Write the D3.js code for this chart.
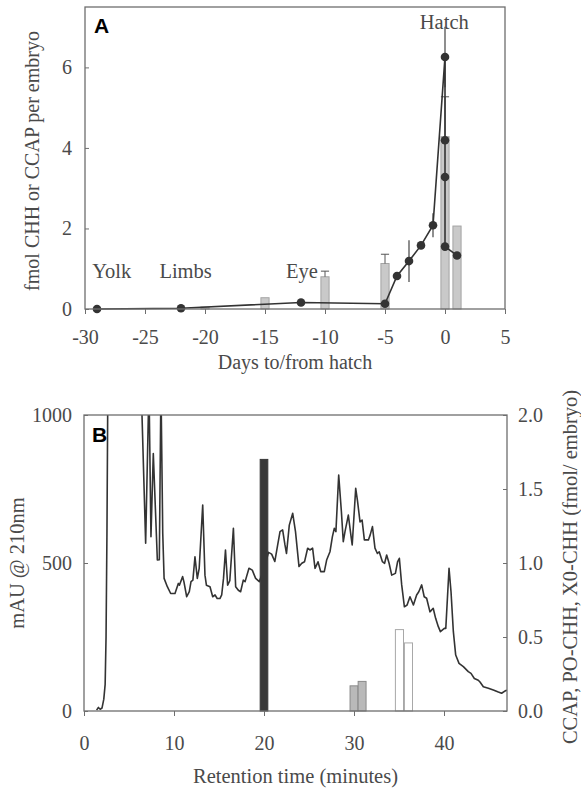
<!DOCTYPE html>
<html>
<head>
<meta charset="utf-8">
<script src="https://cdn.jsdelivr.net/npm/d3@7"></script>
<style>
  html, body { margin: 0; padding: 0; background: #fff; }
  svg text { font-family: "Liberation Serif", "Times New Roman", serif; fill: #4a4a4a; }
</style>
</head>
<body>
<svg id="chart" width="581" height="788"></svg>
<script>
// ---------- Panel A data ----------
const dotDays = [-29, -22, -12, -5, -4, -3, -2, -1, 0, 0, 0, 0, 1];
const dotVals = [0, 0.02, 0.16, 0.13, 0.82, 1.19, 1.58, 2.08, 6.26, 4.19, 3.28, 1.55, 1.33];
const dotErr  = [0, 0, 0, 0, 0, 0.52, 0, 0.3, 0.75, 0, 0, 0, 0];
const barDays = [-20, -15, -10, -5, 0, 1];
const barVals = [0.05, 0.28, 0.80, 1.13, 4.28, 2.06];
const barErr  = [0, 0, 0.14, 0.23, 0.99, 0];
const stageLabels = ["Yolk", "Limbs", "Eye", "Hatch"];
const stageDays   = [-29.4, -23.8, -13.25, -2.1];
const stageVals   = [0.77, 0.77, 0.77, 6.95];
const aXTicks = [-30, -25, -20, -15, -10, -5, 0, 5];
const aYTicks = [0, 2, 4, 6];

// ---------- Panel B data ----------
const chromTime = [1.4, 1.6, 1.8, 2.0, 2.2, 2.35, 2.45, 2.55, 2.65, 3.0, 6.2, 6.35, 6.85, 7.22, 7.44, 7.70, 8.15, 8.37, 8.55, 8.75, 8.9,
  9.26, 9.63, 10.11, 10.48, 10.6, 10.96, 11.1, 11.41, 11.7, 11.89, 12.1, 12.33, 12.59, 12.8, 13.19, 13.44, 13.6, 14.0, 14.3, 14.56, 14.8,
  15.1, 15.3, 15.5, 15.72, 15.96, 16.2, 16.6, 16.85, 17.15, 17.4, 17.7, 17.9, 18.33, 18.7, 19.07, 19.48, 20.0, 20.5, 20.85, 21.2, 21.52,
  21.78, 22.07, 22.33, 22.5, 22.81, 23.19, 23.5, 23.89, 24.2, 24.5, 24.85, 25.1, 25.4, 25.67, 26.0, 26.3, 26.7, 26.96, 27.33, 27.6,
  27.81, 27.99, 28.3, 28.6, 28.81, 29.0, 29.37, 29.7, 29.8, 30.19, 30.4, 30.67, 30.9, 31.15, 31.6, 31.8, 32.05, 32.33, 32.6, 32.8, 33.15,
  33.4, 33.63, 33.9, 34.19, 34.6, 34.85, 35.04, 35.3, 35.6, 35.9, 36.22, 36.6, 36.96, 37.2, 37.52, 37.8, 38.07, 38.44, 38.8, 39.07,
  39.37, 39.6, 40.04, 40.2, 40.56, 40.78, 41.04, 41.3, 41.67, 42.15, 42.7, 43.0, 43.37, 43.81, 44.0, 44.37, 44.93, 45.48, 45.96, 46.4,
  46.8, 47.0];
const chromMAU = [3, 12, 6, 10, 40, 90, 250, 600, 1100, 1500, 1500, 1100, 567, 1100, 589, 870, 510, 511, 1100, 600, 448,
  420, 397, 397, 431, 425, 454, 437, 386, 403, 437, 442, 521, 448, 482, 696, 459, 425, 420, 386, 392, 380,
  380, 392, 448, 544, 425, 440, 617, 420, 408, 403, 442, 437, 482, 476, 448, 437, 480, 536, 530, 505, 561,
  606, 612, 561, 532, 628, 668, 606, 488, 499, 504, 550, 544, 550, 482, 504, 471, 471, 510, 538, 589,
  617, 606, 797, 673, 572, 606, 662, 583, 561, 752, 707, 639, 645, 578, 578, 595, 623, 550, 532, 538, 505,
  499, 527, 499, 459, 465, 505, 516, 426, 352, 358, 386, 358, 392, 403, 426, 386, 381, 335, 347, 313,
  285, 268, 279, 279, 482, 403, 268, 189, 161, 150, 133, 127, 110, 104, 98, 82, 77, 71, 65, 60,
  68, 70];
const ccapTime = [20];
const ccapVal  = [1.70];
const poTime   = [30.0, 30.9];
const poVal    = [0.17, 0.20];
const xoTime   = [35.05, 36.05];
const xoVal    = [0.55, 0.46];
const bXTicks = [0, 10, 20, 30, 40];
const bYTicks = [0, 500, 1000];
const bY2Ticks = [0, 0.5, 1.0, 1.5, 2.0];

const svg = d3.select("#chart");
const axisCol = "#6e6e6e";
const lineCol = "#333";
const fs = 20;

function styleAxis(g) {
  g.select(".domain").remove();
  g.selectAll(".tick line").attr("stroke", axisCol).attr("stroke-width", 1);
  g.selectAll(".tick text").attr("font-size", fs).attr("fill", "#4a4a4a")
    .attr("font-family", "Liberation Serif, Times New Roman, serif");
}
const hyphenInt = (d) => String(d);

// ================= Panel A =================
const ax = d3.scaleLinear().domain([-30, 5]).range([85, 505]);
const ay = d3.scaleLinear().domain([0, 7.5]).range([309, 7]);
const gA = svg.append("g");

const barHalf = 0.34;
gA.selectAll("rect.bar").data(barDays).enter().append("rect")
  .attr("x", (d) => ax(d - barHalf))
  .attr("width", (d) => ax(d + barHalf) - ax(d - barHalf))
  .attr("y", (d, i) => ay(barVals[i]))
  .attr("height", (d, i) => ay(0) - ay(barVals[i]))
  .attr("fill", "#c9c9c9").attr("stroke", "#a4a4a4").attr("stroke-width", 1);
barDays.forEach((d, i) => {
  if (!barErr[i]) return;
  gA.append("line").attr("x1", ax(d)).attr("x2", ax(d))
    .attr("y1", ay(barVals[i])).attr("y2", ay(barVals[i] + barErr[i]))
    .attr("stroke", "#555").attr("stroke-width", 1);
  gA.append("line").attr("x1", ax(d - barHalf)).attr("x2", ax(d + barHalf))
    .attr("y1", ay(barVals[i] + barErr[i])).attr("y2", ay(barVals[i] + barErr[i]))
    .attr("stroke", "#555").attr("stroke-width", 1);
});
dotDays.forEach((d, i) => {
  if (!dotErr[i]) return;
  gA.append("line").attr("x1", ax(d)).attr("x2", ax(d))
    .attr("y1", ay(dotVals[i] - dotErr[i])).attr("y2", ay(dotVals[i] + dotErr[i]))
    .attr("stroke", "#444").attr("stroke-width", 1.2);
});
const aLine = d3.line().x((d) => ax(d[0])).y((d) => ay(d[1]));
gA.append("path").datum(dotDays.map((d, i) => [d, dotVals[i]]))
  .attr("d", aLine).attr("fill", "none").attr("stroke", lineCol).attr("stroke-width", 1.6);
gA.selectAll("circle").data(dotDays).enter().append("circle")
  .attr("cx", (d) => ax(d)).attr("cy", (d, i) => ay(dotVals[i])).attr("r", 4.3)
  .attr("fill", "#333");

gA.append("rect").attr("x", 85).attr("y", 7).attr("width", 420).attr("height", 302)
  .attr("fill", "none").attr("stroke", axisCol).attr("stroke-width", 1.3);
gA.append("g").attr("transform", "translate(0,309)")
  .call(d3.axisBottom(ax).tickValues(aXTicks).tickSize(5).tickPadding(16).tickFormat(hyphenInt))
  .call(styleAxis);
gA.append("g").attr("transform", "translate(85,0)")
  .call(d3.axisLeft(ay).tickValues(aYTicks).tickSizeInner(-4).tickSizeOuter(0).tickPadding(13).tickFormat(hyphenInt))
  .call(styleAxis);
gA.selectAll("text.stage").data(stageLabels).enter().append("text")
  .attr("x", (d, i) => ax(stageDays[i])).attr("y", (d, i) => ay(stageVals[i]))
  .attr("font-size", 20.5).text((d) => d);
gA.append("text").attr("x", 94).attr("y", 33).attr("font-size", 21)
  .attr("font-weight", "bold").style("font-family", "Liberation Sans, Arial, sans-serif").style("fill", "#000").text("A");
gA.append("text").attr("x", ax(-12.5)).attr("y", 369).attr("text-anchor", "middle")
  .attr("font-size", fs).text("Days to/from hatch");
gA.append("text").attr("transform", "translate(39,161) rotate(-90)").attr("text-anchor", "middle")
  .attr("font-size", fs).text("fmol CHH or CCAP per embryo");

// ================= Panel B =================
const bx = d3.scaleLinear().domain([0, 47]).range([84, 507]);
const by = d3.scaleLinear().domain([0, 1000]).range([711, 415]);
const by2 = d3.scaleLinear().domain([0, 2]).range([711, 415]);
const gB = svg.append("g");

svg.append("defs").append("clipPath").attr("id", "clipB")
  .append("rect").attr("x", 84).attr("y", 415).attr("width", 423).attr("height", 296);

const bLine = d3.line().x((d) => bx(d[0])).y((d) => by(d[1]));
gB.append("path").datum(chromTime.map((t, i) => [t, chromMAU[i]]))
  .attr("clip-path", "url(#clipB)")
  .attr("d", bLine).attr("fill", "none").attr("stroke", lineCol).attr("stroke-width", 1.6)
  .attr("stroke-linejoin", "round");

function drawBars(times, vals, w, fill, stroke) {
  gB.selectAll(null).data(times).enter().append("rect")
    .attr("x", (t) => bx(t - w / 2))
    .attr("width", (t) => bx(t + w / 2) - bx(t - w / 2))
    .attr("y", (t, i) => by2(vals[i]))
    .attr("height", (t, i) => by2(0) - by2(vals[i]))
    .attr("fill", fill).attr("stroke", stroke).attr("stroke-width", 1);
}
drawBars(ccapTime, ccapVal, 0.85, "#383838", "#383838");
drawBars(poTime, poVal, 0.88, "#b9b9b9", "#8a8a8a");
drawBars(xoTime, xoVal, 0.9, "#ffffff", "#a8a8a8");

gB.append("rect").attr("x", 84).attr("y", 415).attr("width", 423).attr("height", 296)
  .attr("fill", "none").attr("stroke", axisCol).attr("stroke-width", 1.3);
gB.append("g").attr("transform", "translate(0,711)")
  .call(d3.axisBottom(bx).tickValues(bXTicks).tickSize(5).tickPadding(20).tickFormat(hyphenInt))
  .call(styleAxis);
gB.append("g").attr("transform", "translate(84,0)")
  .call(d3.axisLeft(by).tickValues(bYTicks).tickSizeInner(-4).tickSizeOuter(0).tickPadding(12).tickFormat(hyphenInt))
  .call(styleAxis);
gB.append("g").attr("transform", "translate(507,0)")
  .call(d3.axisRight(by2).tickValues(bY2Ticks).tickSizeInner(-4).tickSizeOuter(0).tickPadding(11).tickFormat(d3.format(".1f")))
  .call(styleAxis);

gB.append("text").attr("x", 92).attr("y", 442).attr("font-size", 21)
  .attr("font-weight", "bold").style("font-family", "Liberation Sans, Arial, sans-serif").style("fill", "#000").text("B");
gB.append("text").attr("x", bx(23.5)).attr("y", 783).attr("text-anchor", "middle")
  .attr("font-size", 20.5).text("Retention time (minutes)");
gB.append("text").attr("transform", "translate(24,563) rotate(-90)").attr("text-anchor", "middle")
  .attr("font-size", 20.5).text("mAU @ 210nm");
gB.append("text").attr("transform", "translate(577,567) rotate(-90)").attr("text-anchor", "middle")
  .attr("font-size", 20.5).text("CCAP, PO-CHH, X0-CHH (fmol/ embryo)");
</script>
</body>
</html>
